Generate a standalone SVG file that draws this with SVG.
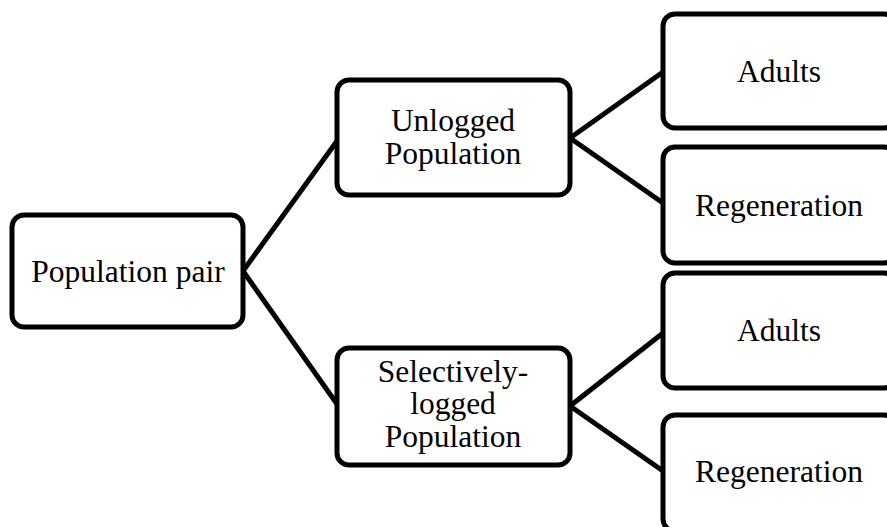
<svg xmlns="http://www.w3.org/2000/svg" width="887" height="527" viewBox="0 0 887 527">
<style>
.box{fill:#fff;stroke:#000;stroke-width:5}
.ln{stroke:#000;stroke-width:5;fill:none}
text{font-family:"Liberation Serif","Times New Roman",serif;font-size:31.5px;fill:#000;text-anchor:middle}
</style>
<rect width="887" height="527" fill="#fff"/>
<g id="connectors">
<line class="ln" x1="243" y1="271" x2="337" y2="141"/>
<line class="ln" x1="243" y1="271" x2="337" y2="404"/>
<line class="ln" x1="570" y1="138" x2="663" y2="72"/>
<line class="ln" x1="570" y1="138" x2="663" y2="203"/>
<line class="ln" x1="570" y1="406" x2="663" y2="333"/>
<line class="ln" x1="570" y1="406" x2="663" y2="471"/>
</g>
<g id="pair">
<rect class="box" x="12" y="215" width="231" height="112" rx="12"/>
<text x="128" y="282">Population pair</text>
</g>
<g id="unlogged">
<rect class="box" x="337" y="80" width="233" height="115" rx="12"/>
<text x="453" y="131">Unlogged</text>
<text x="453" y="164">Population</text>
</g>
<g id="logged">
<rect class="box" x="337" y="348" width="233" height="117" rx="12"/>
<text x="453" y="382">Selectively-</text>
<text x="453" y="414">logged</text>
<text x="453" y="447">Population</text>
</g>
<g id="adults1">
<rect class="box" x="663" y="14" width="233" height="114" rx="12"/>
<text x="779" y="82">Adults</text>
</g>
<g id="regen1">
<rect class="box" x="663" y="147" width="233" height="116" rx="12"/>
<text x="779" y="216">Regeneration</text>
</g>
<g id="adults2">
<rect class="box" x="663" y="273" width="233" height="115" rx="12"/>
<text x="779" y="341">Adults</text>
</g>
<g id="regen2">
<rect class="box" x="663" y="415" width="233" height="116" rx="12"/>
<text x="779" y="482">Regeneration</text>
</g>
</svg>
